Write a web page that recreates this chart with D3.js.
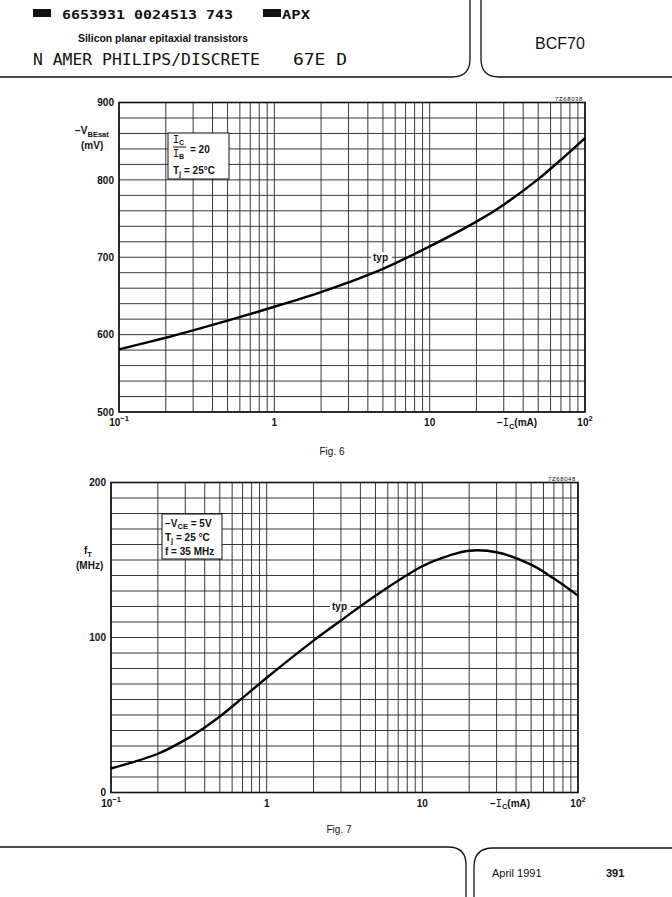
<!DOCTYPE html>
<html lang="en">
<head>
    <meta charset="UTF-8">
    <title>BCF70</title>
    <style>
        body { margin: 0; background: #fff; }
        svg { display: block; }
        text { font-family: "Liberation Sans", Arial, sans-serif; fill: #111; }
        .mono { font-family: "DejaVu Sans Mono", "Liberation Mono", monospace; }
    </style>
    <script src="https://d3js.org/d3.v7.min.js"></script>
</head>
<body>
    <div id="svg"></div>
    <script>
        const boxWidth = 672, boxHeight = 897

        // Fig. 6 : -VBEsat vs -IC (typ)
        const fig6Current = [0.1, 0.2, 0.3, 0.5, 1, 2, 3, 5, 10, 20, 30, 50, 70, 100]
        const fig6Vbe = [581, 596, 605.5, 618, 636, 655, 667.5, 685, 714, 746, 768, 801, 826, 854]
        const fig6YTicks = [500, 600, 700, 800, 900]

        // Fig. 7 : fT vs -IC (typ)
        const fig7Current = [0.1, 0.2, 0.3, 0.4, 0.5, 0.7, 1, 2, 3, 5, 10, 15, 20, 30, 50, 70, 100]
        const fig7Ft = [15.5, 25, 34, 42, 49, 61, 74, 98, 111, 127, 146, 153, 156, 155, 147, 138, 127]
        const fig7YTicks = [0, 100, 200]

        const xTickLabels = [
            { v: 0.1, base: "10", sup: "\u22121" },
            { v: 1, base: "1", sup: "" },
            { v: 10, base: "10", sup: "" },
            { v: 100, base: "10", sup: "2" }
        ]

        const svg = d3.select("#svg").append("svg").attr("width", boxWidth).attr("height", boxHeight)

        // ---------- page frame ----------
        function renderFrame() {
            const g = svg.append("g").attr("fill", "none").attr("stroke", "#111").attr("stroke-width", 1.3)
            g.append("path").attr("d", "M0,77 L452,77 Q470,77 470,59 L470,0")
            g.append("path").attr("d", "M481,0 L481,59 Q481,77 499,77 L672,77")
            g.append("path").attr("d", "M0,847 L448,847 Q466,847 466,865 L466,897")
            g.append("path").attr("d", "M474,897 L474,867 Q474,848 493,848 L672,848")

            svg.append("rect").attr("x", 33).attr("y", 9).attr("width", 18).attr("height", 8).attr("fill", "#111")
            svg.append("text").attr("class", "mono").attr("x", 62).attr("y", 19).attr("font-size", 12).attr("font-weight", "bold")
                .attr("textLength", 171).attr("lengthAdjust", "spacingAndGlyphs").text("6653931 0024513 743")
            svg.append("rect").attr("x", 263).attr("y", 9).attr("width", 18).attr("height", 8).attr("fill", "#111")
            svg.append("text").attr("class", "mono").attr("x", 282).attr("y", 19).attr("font-size", 12).attr("font-weight", "bold")
                .attr("textLength", 28).attr("lengthAdjust", "spacingAndGlyphs").text("APX")

            svg.append("text").attr("x", 78).attr("y", 42).attr("font-size", 10).attr("font-weight", "bold")
                .attr("textLength", 170).attr("lengthAdjust", "spacingAndGlyphs").text("Silicon planar epitaxial transistors")
            svg.append("text").attr("class", "mono").attr("x", 33).attr("y", 65).attr("font-size", 15)
                .attr("textLength", 227).attr("lengthAdjust", "spacingAndGlyphs").text("N AMER PHILIPS/DISCRETE")
            svg.append("text").attr("class", "mono").attr("x", 293).attr("y", 65).attr("font-size", 15)
                .attr("textLength", 54).attr("lengthAdjust", "spacingAndGlyphs").text("67E D")
            svg.append("text").attr("x", 535).attr("y", 49).attr("font-size", 16).text("BCF70")

            svg.append("text").attr("x", 492).attr("y", 877).attr("font-size", 11).text("April 1991")
            svg.append("text").attr("x", 606).attr("y", 877).attr("font-size", 11).attr("font-weight", "bold").text("391")
        }

        // text made of parts: [string, dy, size, mono]
        function partText(g, px, py, parts, size) {
            const t = g.append("text").attr("x", px).attr("y", py).attr("font-size", size || 10).attr("font-weight", "bold")
            parts.forEach(p => {
                const s = t.append("tspan").attr("dy", p[1]).text(p[0])
                if (p[2]) s.attr("font-size", p[2])
                if (p[3]) s.attr("font-family", "DejaVu Sans Mono, monospace").attr("font-weight", "normal")
            })
            return t
        }

        function renderChart(cfg) {
            const g = svg.append("g")
            const x = cfg.x, y = cfg.y
            const [x0, x1] = x.range()
            const [yb, yt] = y.range()

            // grid
            const grid = g.append("g").attr("stroke", "#222").attr("stroke-width", 0.9)
            grid.selectAll(".vg").data(x.ticks()).enter().append("line")
                .attr("x1", d => x(d)).attr("x2", d => x(d)).attr("y1", yt).attr("y2", yb)
            grid.selectAll(".hg").data(y.ticks(20)).enter().append("line")
                .attr("x1", x0).attr("x2", x1).attr("y1", d => y(d)).attr("y2", d => y(d))
            g.append("rect").attr("x", x0).attr("y", yt).attr("width", x1 - x0).attr("height", yb - yt)
                .attr("fill", "none").attr("stroke", "#111").attr("stroke-width", 1.6)

            // y axis labels
            const yAxis = d3.axisLeft(y).tickValues(cfg.yTicks).tickSize(0).tickPadding(5)
            const yAxisGroup = g.append("g").attr("transform", `translate(${x0},0)`).call(yAxis)
            yAxisGroup.select(".domain").remove()
            yAxisGroup.selectAll("text").attr("font-size", 10).attr("font-weight", "bold")
                .attr("font-family", "Liberation Sans, Arial, sans-serif").attr("fill", "#111")

            // x axis labels
            const xl = g.selectAll(".xl").data(xTickLabels).enter().append("text")
                .attr("x", d => x(d.v)).attr("y", yb + 14).attr("font-size", 10).attr("font-weight", "bold")
                .attr("text-anchor", "middle")
            xl.append("tspan").text(d => d.base)
            xl.append("tspan").attr("dy", -5).attr("font-size", 7.5).text(d => d.sup)

            partText(g, cfg.xLabelX, yb + 14, [["\u2212", 0], ["I", 0, 10, true], ["C", 2.5, 7.5], ["(mA)", -2.5]])

            // y quantity label
            partText(g, cfg.yLabel.x, cfg.yLabel.y, [[cfg.yLabel.main, 0], [cfg.yLabel.sub, 3, 7.5]])
            g.append("text").attr("x", cfg.yLabel.ux).attr("y", cfg.yLabel.y + 15).attr("font-size", 10).attr("font-weight", "bold")
                .text(cfg.yLabel.unit)

            // figure code
            g.append("text").attr("x", x1 - 2).attr("y", yt - 2).attr("text-anchor", "end").attr("font-size", 6)
                .attr("letter-spacing", 0.6).text(cfg.code)

            // typ label on a grid line
            const ty = y(cfg.typ.level)
            g.append("rect").attr("x", cfg.typ.x - 2).attr("y", ty - 5).attr("width", 21).attr("height", 10).attr("fill", "#fff")
            g.append("text").attr("x", cfg.typ.x).attr("y", ty + 3.5).attr("font-size", 10).attr("font-weight", "bold").text("typ")

            // curve
            const line = d3.line().x(d => x(d[0])).y(d => y(d[1])).curve(d3.curveCatmullRom.alpha(0.5))
            g.append("path").datum(d3.zip(cfg.xs, cfg.ys)).attr("d", line)
                .attr("fill", "none").attr("stroke", "#000").attr("stroke-width", 2.4)

            // condition box
            const b = cfg.box
            g.append("rect").attr("x", b.x).attr("y", b.y).attr("width", b.w).attr("height", b.h)
                .attr("fill", "#fff").attr("stroke", "#111").attr("stroke-width", 1)
            b.draw(g)

            // caption
            g.append("text").attr("x", cfg.fig.x).attr("y", cfg.fig.y).attr("font-size", 10).attr("text-anchor", "middle").text(cfg.fig.text)
        }

        renderFrame()

        renderChart({
            x: d3.scaleLog().domain([0.1, 100]).range([119, 585]),
            y: d3.scaleLinear().domain([500, 900]).range([412, 102.5]),
            yTicks: fig6YTicks,
            xs: fig6Current, ys: fig6Vbe,
            xLabelX: 497,
            yLabel: { x: 75, y: 134, main: "\u2212V", sub: "BEsat", ux: 81, unit: "(mV)" },
            code: "7Z68038",
            typ: { x: 373, level: 700 },
            fig: { x: 332, y: 455, text: "Fig. 6" },
            box: {
                x: 168, y: 133, w: 61, h: 46,
                draw: g => {
                    partText(g, 173, 143, [["I", 0, 10, true], ["C", 1.5, 7]])
                    g.append("line").attr("x1", 173).attr("x2", 186).attr("y1", 147).attr("y2", 147).attr("stroke", "#111").attr("stroke-width", 1)
                    partText(g, 173, 157, [["I", 0, 10, true], ["B", 1.5, 7]])
                    partText(g, 190, 153, [["= 20", 0]])
                    partText(g, 173, 174, [["T", 0], ["j", 2, 7.5], [" = 25\u00b0C", -2]])
                }
            }
        })

        renderChart({
            x: d3.scaleLog().domain([0.1, 100]).range([111, 578]),
            y: d3.scaleLinear().domain([0, 200]).range([792.5, 482.5]),
            yTicks: fig7YTicks,
            xs: fig7Current, ys: fig7Ft,
            xLabelX: 490,
            yLabel: { x: 84, y: 554, main: "f", sub: "T", ux: 76, unit: "(MHz)" },
            code: "7Z68048",
            typ: { x: 332, level: 120 },
            fig: { x: 339, y: 833, text: "Fig. 7" },
            box: {
                x: 162, y: 514, w: 60, h: 45,
                draw: g => {
                    partText(g, 165, 527, [["\u2212V", 0], ["CE", 2, 7.5], [" = 5V", -2]])
                    partText(g, 165, 541, [["T", 0], ["j", 2, 7.5], [" = 25 \u00b0C", -2]])
                    partText(g, 165, 555, [["f = 35 MHz", 0]])
                }
            }
        })
    </script>
</body>
</html>
